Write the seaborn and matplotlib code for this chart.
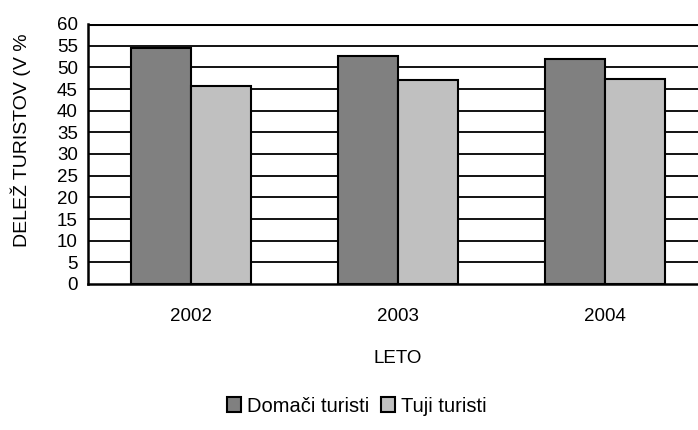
import pandas as pd
import matplotlib.pyplot as plt
import seaborn as sns

years = ["2002", "2003", "2004"]
domaci = [54.4, 52.6, 52.0]
tuji = [45.6, 47.0, 47.4]
series = ["Domači turisti", "Tuji turisti"]
colors = ["#808080", "#C0C0C0"]

df = pd.DataFrame({
    "leto": years * 2,
    "delez": domaci + tuji,
    "skupina": [series[0]] * 3 + [series[1]] * 3,
})

sns.set_style("white")
plt.rcParams["font.family"] = ["Liberation Sans", "DejaVu Sans"]
plt.rcParams["font.size"] = 13.5
for k in ["text.color", "axes.labelcolor", "xtick.color", "ytick.color"]:
    plt.rcParams[k] = "black"

fig = plt.figure(figsize=(6.98, 4.3), dpi=100)
# axes run past the right edge like in the original (clipped)
ax = fig.add_axes([87.5 / 698, 1 - 284 / 430, 621 / 698, 260 / 430])

sns.barplot(data=df, x="leto", y="delez", hue="skupina", palette=colors,
            width=0.576, edgecolor="black", linewidth=1.5, saturation=1,
            ax=ax, zorder=3)

ax.set_ylim(0, 60)
ax.set_xlim(-0.5, 2.5)
ax.set_yticks(range(0, 61, 5))
for v in range(5, 61, 5):
    ax.axhline(v, color="black", lw=2.2 if v == 60 else 1.3, zorder=1)

ax.set_xticks([0, 1, 2])
ax.set_xticklabels(years)
ax.set_xticks([-0.5, 0.5, 1.5, 2.5], minor=True)
ax.tick_params(axis="x", which="major", length=0, pad=17, labelsize=13.5)
ax.tick_params(axis="x", which="minor", length=5, width=1.5, direction="out", color="black")
ax.tick_params(axis="y", length=5, width=1.2, direction="out", color="black", pad=2,
               labelsize=13.5)

for s in ["top", "right"]:
    ax.spines[s].set_visible(False)
for s in ["left", "bottom"]:
    ax.spines[s].set_color("black")
    ax.spines[s].set_linewidth(1.8)

ax.set_xlabel("LETO", labelpad=18, fontsize=13.5)
ax.set_ylabel("")
fig.text(21 / 698, 1 - 140 / 430, "DELEŽ TURISTOV (V %", rotation=90,
         ha="center", va="center", fontsize=14)

ax.get_legend().remove()
handles, labels = ax.get_legend_handles_labels()
fig.legend(handles[:2], labels[:2], loc="center", bbox_to_anchor=(357 / 698, 1 - 406 / 430),
           ncol=2, frameon=False, fontsize=14.5, handlelength=0.7, handleheight=0.7,
           handletextpad=0.3, columnspacing=0.6)

fig.savefig("out.png", dpi=100)
